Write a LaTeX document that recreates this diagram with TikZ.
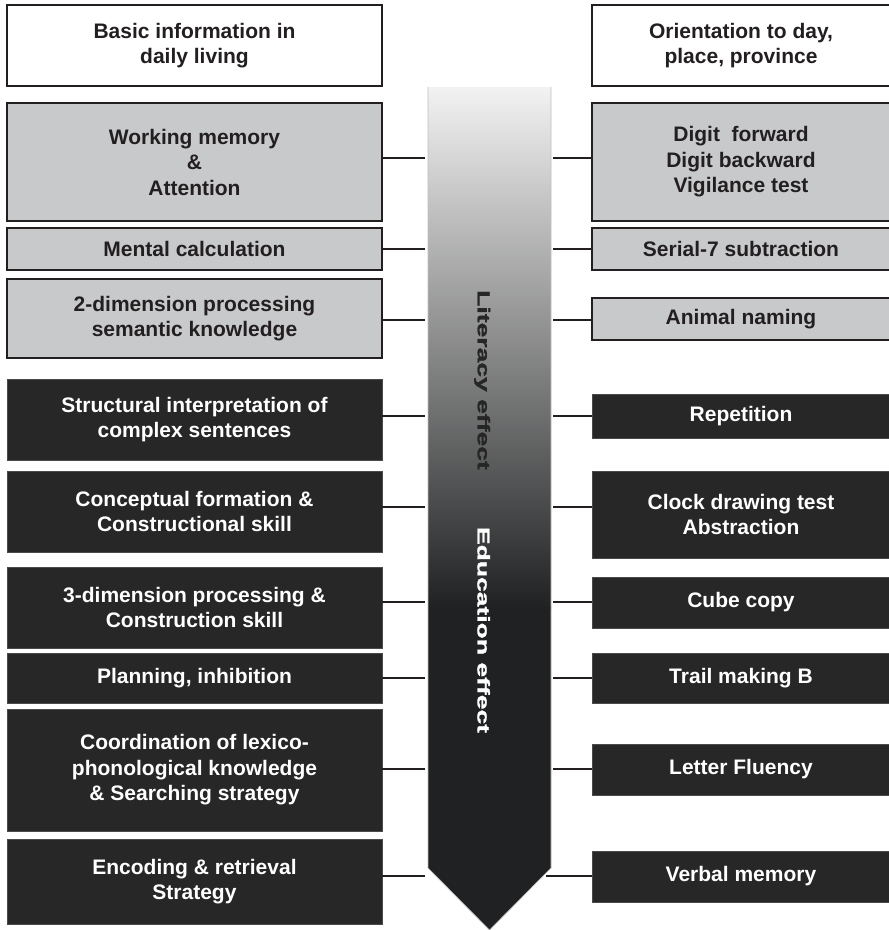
\documentclass[tikz,border=0pt]{standalone}
\usepackage{fontspec}
\setmainfont{Liberation Sans}
\newfontfamily\arrowfont[FakeBold=1.2]{Liberation Sans}
\definecolor{ink}{HTML}{231F20}
\definecolor{boxgray}{HTML}{C8C9CB}
\definecolor{boxdark}{HTML}{272727}
\definecolor{arrowdark}{HTML}{202122}
\definecolor{darkedge}{HTML}{4A4A4A}
\begin{document}
\begin{tikzpicture}[x=1pt,y=-1pt,
  txt/.style={align=center, inner sep=0pt, outer sep=0pt,
    font=\fontsize{21}{25.5}\selectfont\bfseries},
  leftcol/.style={minimum width=375pt},
  rightcol/.style={minimum width=298pt},
  wbox/.style={txt, fill=white, draw=ink, line width=2pt, text=ink, minimum height=#1},
  gbox/.style={txt, fill=boxgray, draw=ink, line width=2pt, text=ink, minimum height=#1},
  dbox/.style={txt, fill=boxdark, draw=darkedge, line width=0.8pt, text=white, minimum height=#1},
  conn/.style={draw=ink, line width=1.8pt},
  arrowtxt/.style={anchor=base, rotate=-90, inner sep=0pt,
    font=\arrowfont\fontsize{17.2}{17.2}\selectfont\bfseries}
]
\useasboundingbox (0,0) rectangle (889,930);

% central arrow
\shade[top color=white!95!black, middle color=black!37, bottom color=arrowdark]
  (428,87) rectangle (551,608);
\fill[arrowdark] (428,607) -- (551,607) -- (551,868) -- (489.5,930) -- (428,868) -- cycle;
\draw[black!25, line width=0.6pt] (428,87) -- (428,868) -- (489.5,930) -- (551,868) -- (551,87);
\node[arrowtxt, text=black!85] (lit) at (477.7,380) {\scalebox{1.54}[1]{Literacy effect}};
\node[arrowtxt, text=white] (edu) at (477.5,630) {\scalebox{1.54}[1]{Education effect}};

% connection points on the arrow
\foreach \i/\y in {1/158,2/249,3/320,4/416,5/507,6/602,7/678,8/769,9/876}{
  \coordinate (aL\i) at (425,\y);
}
\foreach \i/\y in {1/158,2/249,3/320,4/416,5/507,6/602,7/678,8/769}{
  \coordinate (aR\i) at (553,\y);
}
\coordinate (aR9) at (546,876);

% left column
\node[wbox=81pt, leftcol] (bi) at (194.5,45.5) {Basic information in\\daily living};
\node[gbox=118pt, leftcol] (wm) at (194.5,162) {Working memory\\\&\\Attention};
\node[gbox=42pt, leftcol] (mc) at (194.5,249) {Mental calculation};
\node[gbox=79pt, leftcol] (td) at (194.5,318.5) {2-dimension processing\\semantic knowledge};
\node[dbox=81pt, leftcol] (si) at (194.5,419.5) {Structural interpretation of\\complex sentences};
\node[dbox=81pt, leftcol] (cf) at (194.5,511.5) {Conceptual formation \&\\Constructional skill};
\node[dbox=81pt, leftcol] (thd) at (194.5,607.5) {3-dimension processing \&\\Construction skill};
\node[dbox=50pt, leftcol] (pi) at (194.5,678) {Planning, inhibition};
\node[dbox=122pt, leftcol] (co) at (194.5,770) {Coordination of lexico-\\phonological knowledge\\\& Searching strategy};
\node[dbox=85pt, leftcol] (en) at (194.5,881.5) {Encoding \& retrieval\\Strategy};

% right column
\node[wbox=81pt, rightcol] (or) at (741,45.5) {Orientation to day,\\place, province};
\node[gbox=118pt, rightcol] (dg) at (741,162) {Digit\ \ forward\\Digit backward\\Vigilance test};
\node[gbox=42pt, rightcol] (sv) at (741,249) {Serial-7 subtraction};
\node[gbox=42pt, rightcol] (an) at (741,319) {Animal naming};
\node[dbox=44pt, rightcol] (re) at (741,416) {Repetition};
\node[dbox=87pt, rightcol] (cl) at (741,514.5) {Clock drawing test\\Abstraction};
\node[dbox=51pt, rightcol] (cu) at (741,602.5) {Cube copy};
\node[dbox=50pt, rightcol] (tm) at (741,678) {Trail making B};
\node[dbox=51pt, rightcol] (lf) at (741,769.5) {Letter Fluency};
\node[dbox=51pt, rightcol] (vm) at (741,876.5) {Verbal memory};

% connectors
\foreach \n/\i in {wm/1,mc/2,td/3,si/4,cf/5,thd/6,pi/7,co/8,en/9}{
  \draw[conn] (\n.east |- aL\i) -- (aL\i);
}
\foreach \n/\i in {dg/1,sv/2,an/3,re/4,cl/5,cu/6,tm/7,lf/8,vm/9}{
  \draw[conn] (aR\i) -- (\n.west |- aR\i);
}
\end{tikzpicture}
\end{document}
